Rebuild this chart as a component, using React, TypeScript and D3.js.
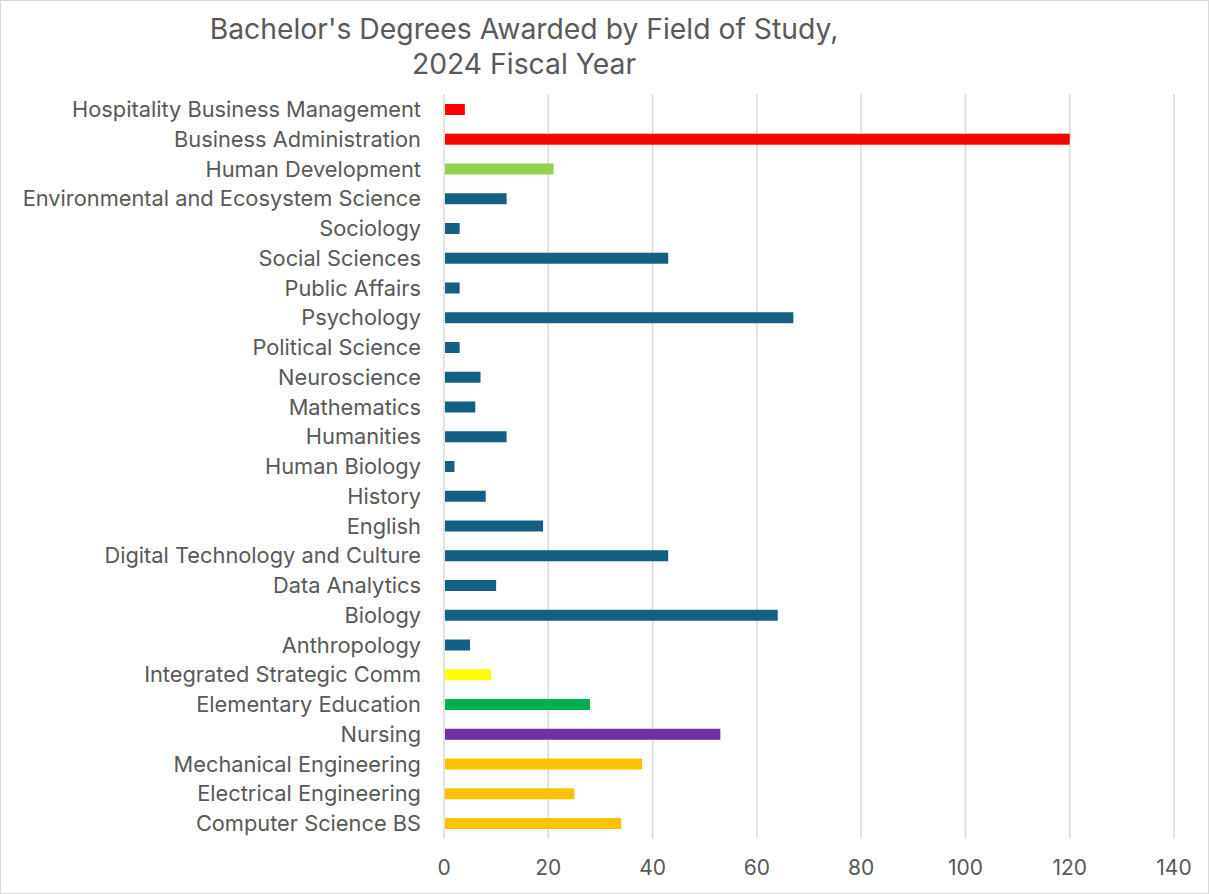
import React, { useRef, useEffect } from 'react';
import * as d3 from 'd3';

const categories = [
  'Hospitality Business Management',
  'Business Administration',
  'Human Development',
  'Environmental and Ecosystem Science',
  'Sociology',
  'Social Sciences',
  'Public Affairs',
  'Psychology',
  'Political Science',
  'Neuroscience',
  'Mathematics',
  'Humanities',
  'Human Biology',
  'History',
  'English',
  'Digital Technology and Culture',
  'Data Analytics',
  'Biology',
  'Anthropology',
  'Integrated Strategic Comm',
  'Elementary Education',
  'Nursing',
  'Mechanical Engineering',
  'Electrical Engineering',
  'Computer Science BS',
];

const degrees = [4, 120, 21, 12, 3, 43, 3, 67, 3, 7, 6, 12, 2, 8, 19, 43, 10, 64, 5, 9, 28, 53, 38, 25, 34];

const barColors = [
  '#FF0000', '#FF0000', '#92D050',
  '#156082', '#156082', '#156082', '#156082', '#156082', '#156082', '#156082',
  '#156082', '#156082', '#156082', '#156082', '#156082', '#156082', '#156082',
  '#156082', '#156082',
  '#FFFF00', '#00B050', '#7030A0', '#FFC000', '#FFC000', '#FFC000',
];

const xTicks = [0, 20, 40, 60, 80, 100, 120, 140];

const titleLines = ["Bachelor's Degrees Awarded by Field of Study,", '2024 Fiscal Year'];

const W = 1209;
const H = 894;
const FONT = 'Inter, "Open Sans", sans-serif';

const App = () => {
  const svgRef = useRef<SVGSVGElement>(null);

  useEffect(() => {
    const svg = d3.select(svgRef.current);
    svg.selectAll('*').remove();

    const data = categories.map((c, i) => ({ name: c, value: degrees[i], color: barColors[i] }));

    const x = d3.scaleLinear().domain([0, 140]).range([444, 1174]);
    const y = d3.scaleBand().domain(categories).range([94.6, 838.4]).paddingInner(0.63).paddingOuter(0.315);

    // background + border
    svg.append('rect')
      .attr('x', 0.5).attr('y', 0.5)
      .attr('width', W - 1).attr('height', H - 1)
      .attr('fill', '#fff')
      .attr('stroke', '#d9d9d9');

    // title
    svg.append('g')
      .selectAll('text')
      .data(titleLines)
      .join('text')
      .attr('x', 524)
      .attr('y', (d, i) => 39 + i * 35)
      .attr('text-anchor', 'middle')
      .attr('font-family', FONT)
      .attr('font-size', 28.3)
      .attr('fill', '#595959')
      .text(d => d);

    // gridlines
    svg.append('g')
      .selectAll('line')
      .data(xTicks)
      .join('line')
      .attr('x1', d => x(d)).attr('x2', d => x(d))
      .attr('y1', 94).attr('y2', 838.5)
      .attr('stroke', '#d9d9d9')
      .attr('stroke-width', 1.5);

    // bars
    svg.append('g')
      .selectAll('rect')
      .data(data)
      .join('rect')
      .attr('x', x(0) + 1)
      .attr('y', d => y(d.name)!)
      .attr('width', d => x(d.value) - x(0) - 1)
      .attr('height', y.bandwidth())
      .attr('fill', d => d.color);

    // category labels
    svg.append('g')
      .selectAll('text')
      .data(data)
      .join('text')
      .attr('x', 421)
      .attr('y', d => y(d.name)! + y.bandwidth() / 2)
      .attr('dy', '0.35em')
      .attr('text-anchor', 'end')
      .attr('font-family', FONT)
      .attr('font-size', 21.8)
      .attr('fill', '#595959')
      .text(d => d.name);

    // x tick labels
    svg.append('g')
      .selectAll('text')
      .data(xTicks)
      .join('text')
      .attr('x', d => x(d))
      .attr('y', 868)
      .attr('dy', '0.35em')
      .attr('text-anchor', 'middle')
      .attr('font-family', FONT)
      .attr('font-size', 21)
      .attr('fill', '#595959')
      .text(d => d);
  }, []);

  return (
    <svg
      ref={svgRef}
      width={W}
      height={H}
      style={{ position: 'absolute', left: 0, top: 0 }}
    />
  );
};

export default App;
